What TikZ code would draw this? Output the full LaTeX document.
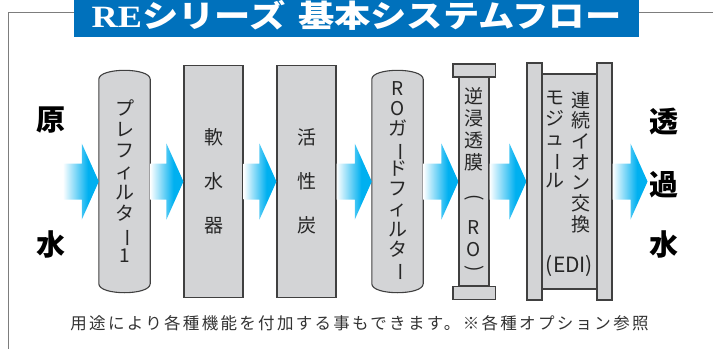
\documentclass[tikz,border=0pt]{standalone}
\usepackage{fontspec}
\usepackage{graphicx}
\newfontfamily\jp{Noto Sans CJK JP}
\newfontfamily\latinserif{Liberation Serif}
\usetikzlibrary{backgrounds, positioning, calc}
\definecolor{titleblue}{RGB}{0,113,188}
\definecolor{flowcyan}{RGB}{0,176,240}
\definecolor{unitgray}{RGB}{211,212,214}
\definecolor{edgegray}{RGB}{64,64,64}
\definecolor{framegray}{RGB}{125,125,125}
\pgfdeclarehorizontalshading{flowshade}{100bp}{color(0bp)=(white); color(25bp)=(white); color(60bp)=(flowcyan); color(100bp)=(flowcyan)}
\newcommand{\vbar}{\rotatebox[origin=c]{-90}{ー}}
\newcommand{\vlp}{\rotatebox[origin=c]{-90}{(}}
\newcommand{\vrp}{\rotatebox[origin=c]{-90}{)}}
%% fat arrow from #1 to the tip #2
\newcommand{\flowarrow}[2]{%
  \shade[shading=flowshade] ([yshift=18pt]#1) -- ([xshift=-17pt,yshift=18pt]#2)
    -- ([xshift=-17pt,yshift=38pt]#2) -- (#2) -- ([xshift=-17pt,yshift=-38pt]#2)
    -- ([xshift=-17pt,yshift=-18pt]#2) -- ([yshift=-18pt]#1) -- cycle;}
%% round-ended cartridge round node #1
\newcommand{\cartridge}[1]{%
  \draw[unit] ([yshift=-9pt]#1.north west) .. controls ([yshift=3pt]#1.north west) and ([yshift=3pt]#1.north east) .. ([yshift=-9pt]#1.north east)
    -- ([yshift=9pt]#1.south east) .. controls ([yshift=-3pt]#1.south east) and ([yshift=-3pt]#1.south west) .. ([yshift=9pt]#1.south west) -- cycle;}

\begin{document}
\begin{tikzpicture}[x=1pt,y=-1pt,on grid,
  unit/.style={draw=edgegray,fill=unitgray,line width=1.1pt,inner sep=0pt},
  filter/.style={inner sep=0pt,minimum width=51pt,minimum height=222pt},
  vtext/.style={text=black!85,align=center,inner sep=0pt,font=\jp\fontsize{19}{21}\selectfont},
  side/.style={font=\jp\bfseries\fontsize{29}{29}\selectfont},
  frame/.style={draw=framegray,line width=1pt}]
\useasboundingbox (0,0) rectangle (713,349);

\node[fill=titleblue,minimum width=565pt,minimum height=37pt,inner sep=0pt] (bar) at (356.5,18.5) {};
\node[text=white,font=\jp\bfseries\fontsize{31}{31}\selectfont,xscale=1.17] (title) at (356.5,15)
  {{\latinserif\bfseries RE}シリーズ\hspace{0.35em}基本システムフロー};
\draw[frame] ([yshift=6.5pt]bar.west) -- (8.5,12) -- (8.5,349);
\draw[frame] ([yshift=6.5pt]bar.east) -- (713,12);

\node[filter,vtext] (pre) at (124.5,181.5) {プ\\レ\\フ\\ィ\\ル\\タ\\\vbar\\1};
\node[unit,vtext,minimum width=59pt,minimum height=232pt,font=\jp\fontsize{19}{44}\selectfont] (soft) [right=89pt of pre] {軟\\水\\器};
\node[unit,vtext,minimum width=59pt,minimum height=232pt,font=\jp\fontsize{19}{44}\selectfont] (carbon) [right=93pt of soft] {活\\性\\炭};
\node[filter,vtext,font=\jp\fontsize{19}{20.1}\selectfont] (guard) [right=91pt of carbon] {R\\O\\ガ\\\vbar\\ド\\フ\\ィ\\ル\\タ\\\vbar};
\node[unit,vtext,minimum width=30pt,minimum height=208pt,font=\jp\fontsize{19}{22}\selectfont] (ro) [right=76.5pt of guard]
  {逆\\浸\\透\\膜\\[12pt]\vlp\\[9pt]R\\O\\[-4pt]\vrp};
\draw[unit] ([xshift=-5.5pt]ro.north west) rectangle ([xshift=5.5pt,yshift=13pt]ro.north east);
\draw[unit] ([xshift=-5.5pt]ro.south west) rectangle ([xshift=5.5pt,yshift=-13pt]ro.south east);
\node[unit,minimum width=55pt,minimum height=215pt] (edi) [right=95.5pt of ro] {};
\node[unit,minimum width=15pt,minimum height=237pt] (edil) [left=35pt of edi] {};
\node[unit,minimum width=15pt,minimum height=237pt] (edir) [right=35pt of edi] {};
\node[vtext,font=\jp\fontsize{19}{20.7}\selectfont,anchor=north] (edia) at ([xshift=11.5pt,yshift=-17.5pt]edi.north) {連\\続\\イ\\オ\\ン\\交\\換};
\node[vtext,font=\jp\fontsize{19}{20.6}\selectfont,anchor=north] (edib) at ([xshift=-14.5pt,yshift=-17.5pt]edi.north) {モ\\ジ\\ュ\\\vbar\\ル};
\node[vtext,font=\jp\fontsize{21}{21}\selectfont] (edic) at ([yshift=24pt]edi.south) {(EDI)};

\begin{scope}[on background layer]
\cartridge{pre}
\cartridge{guard}
\end{scope}

\node[side] (rawa) at (51,120) {原};
\node[side] (rawb) at (51,244) {水};
\node[side] (perma) at (664,122) {透};
\node[side] (permb) at (664,185) {過};
\node[side] (permc) at (664,244) {水};

\coordinate (inlet) at ([xshift=-36pt]pre.west);
\coordinate (outlet) at ([xshift=35pt]edir.east);
\flowarrow{inlet}{pre.west}
\flowarrow{pre.east}{soft.west}
\flowarrow{soft.east}{carbon.west}
\flowarrow{carbon.east}{guard.west}
\flowarrow{guard.east}{ro.west}
\flowarrow{ro.east}{edil.west}
\flowarrow{edir.east}{outlet}

\node[text=black!80,font=\jp\fontsize{16.5}{16.5}\selectfont\addfontfeature{LetterSpace=14}] (note) at (359.5,323)
  {用途により各種機能を付加する事もできます。※各種オプション参照};
\end{tikzpicture}
\end{document}
